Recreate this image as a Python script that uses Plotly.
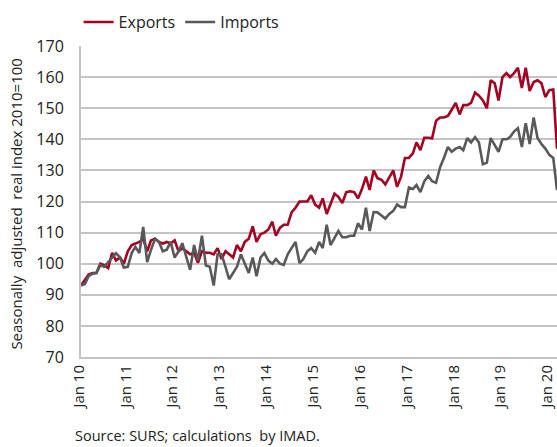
import pandas as pd
import plotly.graph_objects as go

months = pd.date_range("2010-01-01", periods=123, freq="MS")

exports = [
    # 2010
    93, 95, 96.5, 97, 97, 100, 99.5, 98.6, 103.5, 101, 102, 100,
    # 2011
    104, 106, 106.5, 107, 108, 104, 107.5, 108, 107, 106.5, 107, 106.5,
    # 2012
    107.5, 104, 105, 104, 103, 103.5, 100.3, 104, 103.5, 103.5, 103, 105,
    # 2013
    101.5, 104, 103, 102, 106, 104, 107, 108, 112, 107, 109.5, 110,
    # 2014
    111, 113.5, 109, 111.5, 112.5, 112.5, 116.5, 118, 120, 120, 120, 122,
    # 2015
    119, 118, 121, 116, 119, 122.5, 121.5, 119.5, 123, 123.3, 123, 121,
    # 2016
    124, 128, 123.7, 130, 127.5, 127, 125.5, 128, 130, 124.7, 128, 134,
    # 2017
    134, 135.5, 139, 136.5, 140.5, 140.5, 140.3, 146, 147, 147, 147.5, 149.5,
    # 2018
    151.7, 148, 151, 151, 151.7, 155, 154, 152.5, 150, 159, 158, 152.5,
    # 2019
    160, 161.3, 160, 161.3, 163, 156.5, 163, 155.5, 158.4, 159, 158, 153.6,
    # 2020
    155.8, 156, 137,
]

imports = [
    # 2010
    93, 93.5, 96, 96.8, 97, 99.5, 99, 100.5, 102, 103.4, 102, 98.8,
    # 2011
    99, 103.5, 105.4, 103.4, 111.8, 100.5, 104.5, 108, 107, 104, 104.5, 107,
    # 2012
    102, 104, 106.6, 102, 98, 106, 101, 109, 99.4, 99, 93, 103,
    # 2013
    103, 99, 95, 97, 99, 103, 100, 97, 102, 96, 102, 103.4,
    # 2014
    101, 100, 101.5, 100, 99.6, 103, 105, 107, 100.2, 101.5, 104, 105,
    # 2015
    103.5, 107, 105, 112.5, 106, 108.5, 110.5, 108.5, 108.5, 109, 109, 113,
    # 2016
    111, 118, 110.5, 116.6, 116.5, 115.5, 114.5, 116, 117, 119, 118.2, 118.2,
    # 2017
    124.5, 124, 125.3, 123, 126.5, 128.2, 126.5, 126, 131, 134, 137.5, 136,
    # 2018
    137, 137.5, 136.5, 140.4, 139, 140.7, 139, 132, 132.5, 140.4, 138, 136,
    # 2019
    140, 140, 140.7, 142.5, 143.6, 137.5, 145.2, 138.5, 147, 140.4, 138.5, 137,
    # 2020
    135, 134, 123.7,
]

series_names = ["Exports", "Imports"]
series_colors = ["#A50021", "#595959"]

FONT = "Open Sans"
TXT = "#222222"
GRID = "#c4c4c4"

fig = go.Figure()
for name, vals, col in zip(series_names, [exports, imports], series_colors):
    fig.add_trace(go.Scatter(
        x=months, y=vals, mode="lines", name=name,
        line=dict(color=col, width=2.6),
    ))

fig.update_layout(
    width=557, height=447,
    margin=dict(l=81, r=0, t=46, b=90, autoexpand=False),
    paper_bgcolor="white", plot_bgcolor="white",
    font=dict(family=FONT, size=16, color=TXT),
    showlegend=True,
    legend=dict(orientation="h", x=-0.005, xanchor="left", y=1.077, yanchor="middle",
                font=dict(size=16, color=TXT), itemwidth=30, tracegroupgap=0,
                bgcolor="rgba(0,0,0,0)"),
)

fig.update_xaxes(
    range=["2010-01-01", "2020-03-01"],
    tick0="2010-01-01", dtick="M12", tickformat="%b %y",
    tickangle=-90, showgrid=False, automargin=False,
    ticklabeloverflow="allow", ticklabelshift=-2,
    showline=True, linecolor=GRID, linewidth=2,
    ticks="", tickfont=dict(size=15, color=TXT),
    zeroline=False,
)
fig.update_yaxes(
    range=[70, 170], dtick=10, tick0=70,
    showgrid=True, gridcolor=GRID, gridwidth=1.6, automargin=False,
    showline=True, linecolor=GRID, linewidth=2,
    ticks="", tickfont=dict(size=16, color=TXT),
    ticklabelstandoff=12, zeroline=False,
)

fig.add_annotation(
    text="Seasonally  adjusted  real index 2010=100",
    xref="paper", yref="paper", x=-(81 - 16) / 476, y=0.49,
    xanchor="center", yanchor="middle", textangle=-90,
    showarrow=False, font=dict(size=15, color=TXT),
)
fig.add_annotation(
    text="Source: SURS; calculations  by IMAD.",
    xref="paper", yref="paper", x=-(81 - 73) / 476, y=-(436 - 357) / 311,
    xanchor="left", yanchor="middle",
    showarrow=False, font=dict(size=14.5, color=TXT),
)

fig.write_html(
    "out.html",
    config={"displayModeBar": False},
    post_script="document.body.style.margin='0';document.body.style.overflow='hidden';",
)
